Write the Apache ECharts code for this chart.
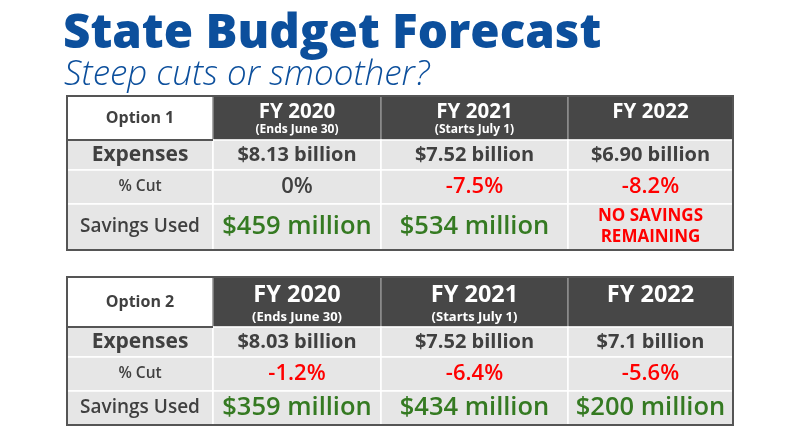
<!DOCTYPE html>
<html><head><meta charset="utf-8">
<script src="https://cdn.jsdelivr.net/npm/echarts@6/dist/echarts.min.js"></script>
<style>html,body{margin:0;padding:0;background:#fff}#c{width:799px;height:448px}</style>
</head><body><div id="c"></div>
<script>
// ---- data ----
const titleText = 'State Budget Forecast';
const subtitleText = 'Steep cuts or smoother?';
const optionNames = ['Option 1', 'Option 2'];
const rowLabels = ['Expenses', '% Cut', 'Savings Used'];
const fiscalYears = ['FY 2020', 'FY 2021', 'FY 2022'];
const yearNotes = ['(Ends June 30)', '(Starts July 1)', ''];
const option1Expenses = ['$8.13 billion', '$7.52 billion', '$6.90 billion'];
const option1Cuts = [0, -7.5, -8.2];
const option1Savings = [459, 534, null];
const option2Expenses = ['$8.03 billion', '$7.52 billion', '$7.1 billion'];
const option2Cuts = [-1.2, -6.4, -5.6];
const option2Savings = [359, 434, 200];

// ---- layout (not data) ----
const COL_EDGES = [0, 146, 314, 501, 666];
const TABLES = [
  { top: 96, rows: [0, 44, 74, 108, 154], fySize: 20.5, noteSize: 12, fyDy: 16, noteDy: 34,
    name: optionNames[0], exp: option1Expenses, cuts: option1Cuts, sav: option1Savings },
  { top: 277, rows: [0, 50, 80, 114, 148], fySize: 23.5, noteSize: 13, fyDy: 18, noteDy: 40,
    name: optionNames[1], exp: option2Expenses, cuts: option2Cuts, sav: option2Savings }
];
const FONT = '"Open Sans", "DejaVu Sans", sans-serif';
const DARK = '#404040', RED = '#FF0000', GREEN = '#357A22', HEAD = '#474747', BODY = '#E6E6E6';

function fmtCut(v) { return (v === 0 ? '0' : v.toFixed(1)) + '%'; }
function fmtSav(v) { return v == null ? 'NO SAVINGS\nREMAINING' : '$' + v + ' million'; }

function cell(t, c, r) {
  if (r === 0 && c === 0) return { fill: '#fff', stroke: '#fff', texts: [{ text: t.name, size: 16, weight: 700, color: DARK, pos: 'mid' }] };
  if (r === 0) {
    const texts = [{ text: fiscalYears[c - 1], size: t.fySize, weight: 700, color: '#fff', pos: 'fy' }];
    if (yearNotes[c - 1]) texts.push({ text: yearNotes[c - 1], size: t.noteSize, weight: 700, color: '#fff', pos: 'note' });
    return { fill: HEAD, stroke: '#8E8E8E', texts };
  }
  if (c === 0) {
    const lab = rowLabels[r - 1];
    const spec = [{ size: 21, weight: 700 }, { size: 15.5, weight: 600 }, { size: 19, weight: 600 }][r - 1];
    return { fill: BODY, stroke: '#fff', texts: [{ text: lab, size: spec.size, weight: spec.weight, color: DARK, pos: 'mid' }] };
  }
  const i = c - 1;
  if (r === 1) return { fill: BODY, stroke: '#fff', texts: [{ text: t.exp[i], size: 20, weight: 700, color: DARK, pos: 'mid' }] };
  if (r === 2) {
    const v = t.cuts[i];
    return { fill: BODY, stroke: '#fff', texts: [{ text: fmtCut(v), size: 22, weight: 600, color: v < 0 ? RED : DARK, pos: 'mid' }] };
  }
  const v = t.sav[i];
  if (v == null) return { fill: BODY, stroke: '#fff', texts: [{ text: fmtSav(v), size: 17, weight: 700, color: RED, pos: 'mid', lh: 21 }] };
  return { fill: BODY, stroke: '#fff', texts: [{ text: fmtSav(v), size: 25.5, weight: 600, color: GREEN, pos: 'mid' }] };
}

function makeCellData() {
  const d = [];
  for (let r = 0; r < 4; r++) for (let c = 0; c < 4; c++) d.push([c, r]);
  return d;
}

function cellSeries(ti) {
  const t = TABLES[ti];
  return {
    type: 'custom', xAxisIndex: ti, yAxisIndex: ti, z: 2, silent: true,
    data: makeCellData(),
    renderItem: function (params, api) {
      const c = api.value(0), r = api.value(1);
      const a = api.coord([COL_EDGES[c], t.rows[r]]);
      const b = api.coord([COL_EDGES[c + 1], t.rows[r + 1]]);
      const x = Math.min(a[0], b[0]), y = Math.min(a[1], b[1]);
      const w = Math.abs(b[0] - a[0]), h = Math.abs(b[1] - a[1]);
      const spec = cell(t, c, r);
      const children = [{ type: 'rect', shape: { x, y, width: w, height: h },
        style: { fill: spec.fill, stroke: spec.stroke, lineWidth: 1.5 } }];
      spec.texts.forEach(tx => {
        let ty = y + h / 2;
        if (tx.pos === 'fy') ty = y + t.fyDy;
        if (tx.pos === 'note') ty = y + t.noteDy;
        children.push({ type: 'text', style: {
          x: x + w / 2, y: ty, text: tx.text, fill: tx.color,
          fontSize: tx.size, fontWeight: tx.weight, fontFamily: FONT,
          align: 'center', verticalAlign: 'middle', lineHeight: tx.lh || tx.size * 1.2 } });
      });
      return { type: 'group', children };
    }
  };
}

function frameSeries(ti) {
  const t = TABLES[ti];
  return {
    type: 'custom', xAxisIndex: ti, yAxisIndex: ti, z: 5, silent: true,
    data: [[0, 0]],
    renderItem: function (params, api) {
      const a = api.coord([COL_EDGES[0], t.rows[0]]);
      const b = api.coord([COL_EDGES[4], t.rows[4]]);
      const h1 = api.coord([COL_EDGES[1], t.rows[1]]);
      return { type: 'group', children: [
        { type: 'rect', shape: { x: a[0], y: a[1], width: b[0] - a[0], height: b[1] - a[1] },
          style: { fill: null, stroke: '#555', lineWidth: 2 } },
        { type: 'line', shape: { x1: a[0], y1: h1[1], x2: h1[0], y2: h1[1] },
          style: { stroke: '#555', lineWidth: 2 } }
      ] };
    }
  };
}

const chart = echarts.init(document.getElementById('c'));
chart.setOption({
  animation: false,
  backgroundColor: '#fff',
  title: [
    { text: titleText, left: 58, top: 5,
      textStyle: { fontSize: 47.5, fontWeight: 800, fontFamily: FONT, color: '#0C4F9C' } },
    { text: subtitleText, left: 59, top: 53,
      textStyle: { fontSize: 35, fontWeight: 300, fontStyle: 'italic', fontFamily: FONT, color: '#0C4F9C' } }
  ],
  grid: TABLES.map(t => ({ left: 67, top: t.top, width: 666, height: t.rows[4] })),
  xAxis: TABLES.map((t, i) => ({ type: 'value', gridIndex: i, min: 0, max: COL_EDGES[4], show: false })),
  yAxis: TABLES.map((t, i) => ({ type: 'value', gridIndex: i, min: 0, max: t.rows[4], inverse: true, show: false })),
  series: [cellSeries(0), frameSeries(0), cellSeries(1), frameSeries(1)]
});
</script></body></html>
